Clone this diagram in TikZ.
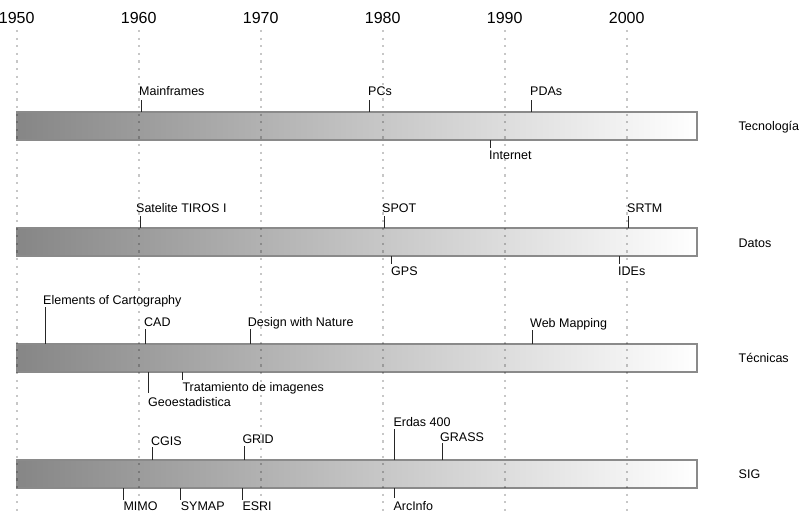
\documentclass[tikz,border=0pt]{standalone}
\usepackage{fontspec}
\setmainfont{Liberation Sans}
\definecolor{bardark}{HTML}{868686}
\definecolor{barborder}{HTML}{8A8A8A}
\begin{document}
\begin{tikzpicture}[x=1pt,y=-1pt,
  bar/.style={draw=barborder, line width=2pt, left color=bardark, right color=white,
    minimum width=680pt, minimum height=28pt, inner sep=0pt, outer sep=0pt, anchor=north west},
  evt/.style={anchor=base west, inner sep=0pt, font=\fontsize{12.5}{15}\selectfont},
  yr/.style={anchor=base, inner sep=0pt, font=\fontsize{16}{19}\selectfont},
  cat/.style={anchor=base west, inner sep=0pt, font=\fontsize{12.5}{15}\selectfont},
  gridln/.style={line width=2.2pt, draw=black, draw opacity=0.22, dash pattern=on 2.2pt off 5.4pt},
  tickln/.style={line width=1pt, draw=black!85}]
\useasboundingbox (0,0) rectangle (800,513);

% bars
\node[bar] (bTec) at (17,112) {};
\node[bar] (bDat) at (17,228) {};
\node[bar] (bTcn) at (17,344) {};
\node[bar] (bSig) at (17,460) {};

% year grid
\foreach \yv [count=\i from 0] in {1950,1960,1970,1980,1990,2000}{
  \pgfmathsetmacro{\xv}{16.7+122*\i}
  \node[yr] (y\yv) at (\xv,23.3) {\yv};
  \coordinate (gt\yv) at (\xv,30);
  \coordinate (gb\yv) at (\xv,513);
  \draw[gridln] (gt\yv) -- (gb\yv);
}

% category labels
\node[cat] (cTec) at (738.5,131) {Tecnología};
\node[cat] (cDat) at (738.5,247) {Datos};
\node[cat] (cTcn) at (738.5,362.5) {Técnicas};
\node[cat] (cSig) at (738.5,478.5) {SIG};

% Tecnologia events
\coordinate (tMain) at (141,100.5);
\coordinate (tPCs) at (369,100.5);
\coordinate (tPDA) at (531,100.5);
\coordinate (tInt) at (490,148.3);
\draw[tickln] (bTec.north -| tMain) -- (tMain);
\draw[tickln] (bTec.north -| tPCs) -- (tPCs);
\draw[tickln] (bTec.north -| tPDA) -- (tPDA);
\draw[tickln] (bTec.south -| tInt) -- (tInt);
\node[evt] (nMain) at (139,96) {Mainframes};
\node[evt] (nPCs) at (368,96) {PCs};
\node[evt] (nPDA) at (530,96) {PDAs};
\node[evt] (nInt) at (489,159.5) {Internet};

% Datos events
\coordinate (tTir) at (140,216);
\coordinate (tSpo) at (384,216);
\coordinate (tSrt) at (628,216);
\coordinate (tGps) at (391,264);
\coordinate (tIde) at (619,264);
\draw[tickln] (bDat.north -| tTir) -- (tTir);
\draw[tickln] (bDat.north -| tSpo) -- (tSpo);
\draw[tickln] (bDat.north -| tSrt) -- (tSrt);
\draw[tickln] (bDat.south -| tGps) -- (tGps);
\draw[tickln] (bDat.south -| tIde) -- (tIde);
\node[evt] (nTir) at (136,212.5) {Satelite TIROS I};
\node[evt] (nSpo) at (382,212.5) {SPOT};
\node[evt] (nSrt) at (627,212.5) {SRTM};
\node[evt] (nGps) at (391,275.5) {GPS};
\node[evt] (nIde) at (618,275.5) {IDEs};

% Tecnicas events
\coordinate (tEle) at (45,306.7);
\coordinate (tCad) at (145.7,329.3);
\coordinate (tDes) at (250,329.3);
\coordinate (tWeb) at (532,330);
\coordinate (tTra) at (182.3,380);
\coordinate (tGeo) at (148,392.7);
\draw[tickln] (bTcn.north -| tEle) -- (tEle);
\draw[tickln] (bTcn.north -| tCad) -- (tCad);
\draw[tickln] (bTcn.north -| tDes) -- (tDes);
\draw[tickln] (bTcn.north -| tWeb) -- (tWeb);
\draw[tickln] (bTcn.south -| tTra) -- (tTra);
\draw[tickln] (bTcn.south -| tGeo) -- (tGeo);
\node[evt] (nEle) at (43,304) {Elements of Cartography};
\node[evt] (nCad) at (144,326.7) {CAD};
\node[evt] (nDes) at (247.7,326.7) {Design with Nature};
\node[evt] (nWeb) at (530,327.5) {Web Mapping};
\node[evt] (nTra) at (182.3,391.7) {Tratamiento de imagenes};
\node[evt] (nGeo) at (148,406) {Geoestadistica};

% SIG events
\coordinate (tCgi) at (152.7,446.7);
\coordinate (tGri) at (244.7,445.7);
\coordinate (tErd) at (394.3,429.3);
\coordinate (tGra) at (442.3,443.3);
\coordinate (tMim) at (123.3,500);
\coordinate (tSym) at (180.7,500);
\coordinate (tEsr) at (242.3,500);
\coordinate (tArc) at (394,498);
\draw[tickln] (bSig.north -| tCgi) -- (tCgi);
\draw[tickln] (bSig.north -| tGri) -- (tGri);
\draw[tickln] (bSig.north -| tErd) -- (tErd);
\draw[tickln] (bSig.north -| tGra) -- (tGra);
\draw[tickln] (bSig.south -| tMim) -- (tMim);
\draw[tickln] (bSig.south -| tSym) -- (tSym);
\draw[tickln] (bSig.south -| tEsr) -- (tEsr);
\draw[tickln] (bSig.south -| tArc) -- (tArc);
\node[evt] (nCgi) at (151,445) {CGIS};
\node[evt] (nGri) at (242.3,443.3) {GRID};
\node[evt] (nErd) at (393.3,426) {Erdas 400};
\node[evt] (nGra) at (440,441) {GRASS};
\node[evt] (nMim) at (123.3,510) {MIMO};
\node[evt] (nSym) at (180.7,510) {SYMAP};
\node[evt] (nEsr) at (242.3,510) {ESRI};
\node[evt] (nArc) at (393.3,510) {ArcInfo};
\end{tikzpicture}
\end{document}
